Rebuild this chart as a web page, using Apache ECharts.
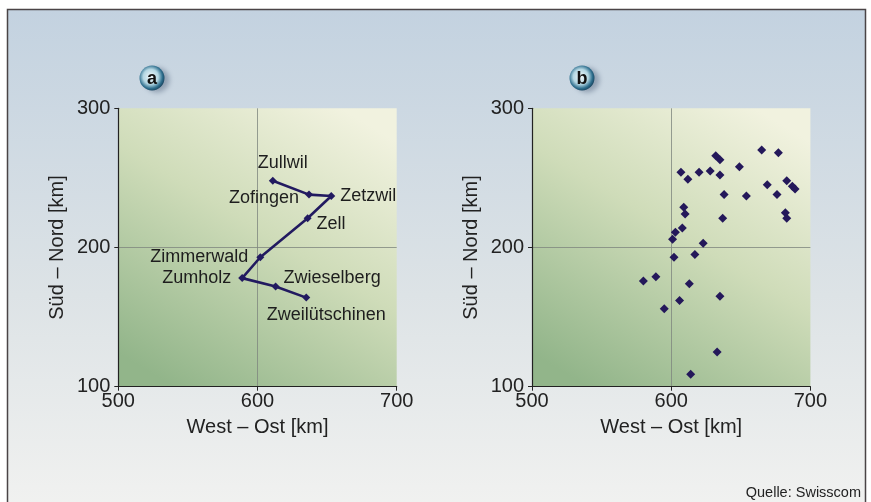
<!DOCTYPE html>
<html>
<head>
<meta charset="utf-8">
<script src="https://cdn.jsdelivr.net/npm/echarts@6/dist/echarts.min.js"></script>
<style>
html, body { margin: 0; padding: 0; background: #fff; }
#main { width: 871px; height: 502px; }
</style>
</head>
<body>
<div id="main"></div>
<script>
var myChart = echarts.init(document.getElementById('main'));

// Panel a: Orte entlang der Route
var orte = ['Zullwil', 'Zofingen', 'Zetzwil', 'Zell', 'Zimmerwald', 'Zumholz', 'Zwieselberg', 'Zweilütschinen'];
var orteX = [611, 637, 653, 636, 602, 589, 613, 635];
var orteY = [248, 238, 237, 221, 193, 178, 172, 164];

// Panel b: Streupunkte
var punkteX = [665, 677, 632, 635, 649, 607, 620, 628, 635, 612, 683, 669, 687, 689, 638, 654, 676,
               609, 610, 682, 683, 637, 608, 603, 601, 623, 602, 617, 580, 589, 613, 635, 606, 595, 633, 614];
var punkteY = [270, 268, 266, 263, 258, 254, 254, 255, 252, 249, 248, 245, 244, 242, 238, 237, 238,
               229, 224, 225, 221, 221, 214, 211, 206, 203, 193, 195, 176, 179, 174, 165, 162, 156, 125, 109];

// Achsen
var xTicks = [500, 600, 700];
var yTicks = [100, 200, 300];

var labelPos = [
    { position: 'top', offset: [10, 0] },
    { position: 'left', distance: 6, offset: [0, 3] },
    { position: 'right', distance: 5 },
    { position: 'right', distance: 5, offset: [0, 6] },
    { position: 'left', distance: 8 },
    { position: 'left', distance: 7 },
    { position: 'right', distance: 4, offset: [0, -8] },
    { position: 'bottom', distance: 4, offset: [20, 0] }
];

var lineData = [];
for (var i = 0; i < orte.length; i++) {
    lineData.push({
        name: orte[i],
        value: [orteX[i], orteY[i]],
        label: labelPos[i]
    });
}
var scatterData = [];
for (var j = 0; j < punkteX.length; j++) {
    scatterData.push([punkteX[j], punkteY[j]]);
}

var plotBg = new echarts.graphic.LinearGradient(0.8, 0, 0.2, 1, [
    { offset: 0, color: '#f1f2df' },
    { offset: 0.45, color: '#cfdcb9' },
    { offset: 1, color: '#92b58a' }
]);

function xAxisOpt(idx) {
    return {
        gridIndex: idx, type: 'value', min: xTicks[0], max: xTicks[2], interval: 100,
        name: 'West – Ost [km]', nameLocation: 'middle', nameGap: 31,
        nameTextStyle: { fontSize: 20, color: '#222', fontFamily: 'Liberation Sans' },
        axisLine: { show: true, lineStyle: { color: '#222', width: 1.2 } },
        axisTick: { show: true, length: 4, lineStyle: { color: '#222' } },
        axisLabel: { fontSize: 20, color: '#222', margin: 5, fontFamily: 'Liberation Sans' },
        splitLine: { show: true, showMinLine: false, showMaxLine: false, lineStyle: { color: '#7f877f', width: 0.8 } }
    };
}
function yAxisOpt(idx) {
    return {
        gridIndex: idx, type: 'value', min: yTicks[0], max: yTicks[2], interval: 100,
        name: 'Süd – Nord [km]', nameLocation: 'middle', nameGap: 51,
        nameTextStyle: { fontSize: 20, color: '#222', fontFamily: 'Liberation Sans' },
        axisLine: { show: true, lineStyle: { color: '#222', width: 1.2 } },
        axisTick: { show: true, length: 4, lineStyle: { color: '#222' } },
        axisLabel: { fontSize: 20, color: '#222', margin: 8, fontFamily: 'Liberation Sans' },
        splitLine: { show: true, showMinLine: false, showMaxLine: false, lineStyle: { color: '#7f877f', width: 0.8 } }
    };
}

function badge(cx, cy, letter) {
    return {
        type: 'group',
        children: [
            {
                type: 'circle', shape: { cx: cx, cy: cy, r: 12.5 },
                style: {
                    fill: new echarts.graphic.RadialGradient(0.45, 0.45, 0.6, [
                        { offset: 0, color: '#f2f8fa' },
                        { offset: 0.5, color: '#b3d6e2' },
                        { offset: 0.78, color: '#2f6f8e' },
                        { offset: 1, color: '#103650' }
                    ]),
                    shadowBlur: 5, shadowOffsetX: 5, shadowOffsetY: 2, shadowColor: 'rgba(40,60,90,0.35)'
                }
            },
            {
                type: 'text', x: cx, y: cy + 1,
                style: {
                    text: letter, fontSize: 18, fontWeight: 'bold', fill: '#111',
                    fontFamily: 'Liberation Sans', align: 'center', verticalAlign: 'middle'
                }
            }
        ]
    };
}

var option = {
    backgroundColor: '#ffffff',
    animation: false,
    graphic: [
        {
            type: 'rect', z: -10,
            shape: { x: 7.5, y: 9.5, width: 858, height: 520 },
            style: {
                fill: new echarts.graphic.LinearGradient(0, 0, 0, 1, [
                    { offset: 0, color: '#c3d2e0' },
                    { offset: 0.55, color: '#dde3e6' },
                    { offset: 1, color: '#f3f3f1' }
                ]),
                stroke: '#4a4446', lineWidth: 1.5
            }
        },
        badge(152, 78, 'a'),
        badge(582, 78, 'b'),
        {
            type: 'text', right: 10, top: 485,
            style: { text: 'Quelle: Swisscom', fontSize: 14.5, fill: '#222', fontFamily: 'Liberation Sans' }
        }
    ],
    grid: [
        { left: 118.3, top: 108.3, width: 278.4, height: 278.4, show: true, backgroundColor: plotBg, borderWidth: 0 },
        { left: 532, top: 108.3, width: 278.4, height: 278.4, show: true, backgroundColor: plotBg, borderWidth: 0 }
    ],
    xAxis: [xAxisOpt(0), xAxisOpt(1)],
    yAxis: [yAxisOpt(0), yAxisOpt(1)],
    series: [
        {
            type: 'line', xAxisIndex: 0, yAxisIndex: 0,
            data: lineData,
            symbol: 'diamond', symbolSize: 8,
            lineStyle: { color: '#221a60', width: 2.6 },
            itemStyle: { color: '#221a60' },
            label: {
                show: true, formatter: '{b}', fontSize: 18, color: '#1e1e1e',
                fontFamily: 'Liberation Sans'
            }
        },
        {
            type: 'scatter', xAxisIndex: 1, yAxisIndex: 1,
            data: scatterData,
            symbol: 'diamond', symbolSize: 9,
            itemStyle: { color: '#24185a', opacity: 1 }
        }
    ]
};

myChart.setOption(option);
</script>
</body>
</html>
